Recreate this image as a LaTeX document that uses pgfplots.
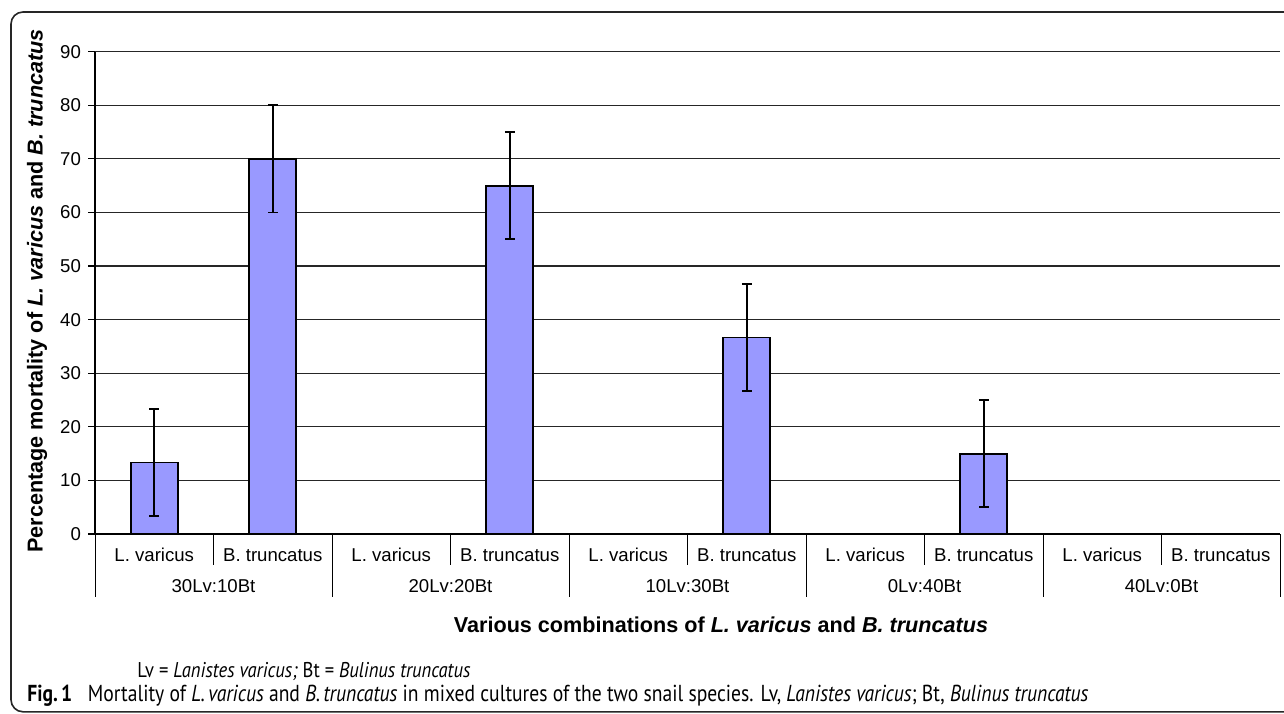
\documentclass[border=0pt]{standalone}
\usepackage{pgfplots}
\pgfplotsset{compat=1.18}
\usepackage{pgfplotstable}
\usepackage{fontspec}
\setmainfont{Liberation Sans}
\newfontfamily\capfont{PT Sans}
\definecolor{barblue}{HTML}{9999FF}
\tikzset{catlab/.style={anchor=base, font=\fontsize{9.3}{11}\selectfont, inner sep=0pt}}

% mean mortality (%) and error, one row per bar (categories 0..9)
\pgfplotstableread{
x y e
0 13.33 10
1 70 10
2 0 0
3 65 10
4 0 0
5 36.67 10
6 0 0
7 15 10
8 0 0
9 0 0
}\mortality

\begin{document}
\begin{tikzpicture}
% picture is 1284 x 713 px, 1 px = 0.5pt
\useasboundingbox (0,0) rectangle (642pt,356.5pt);
\draw[line width=0.8pt, black!85, rounded corners=6pt] (5.5pt,0.6pt) rectangle (680pt,350.5pt);

\begin{axis}[
    at={(47.5pt,89.5pt)}, anchor=south west,
    scale only axis, width=592.5pt, height=241.2pt,
    xmin=-0.5, xmax=9.5, ymin=0, ymax=90,
    ybar, bar width=23.5pt,
    axis x line*=bottom, axis y line*=left,
    axis line style={line width=0.55pt, black},
    xtick=\empty,
    ytick={0,10,...,90},
    ymajorgrids, grid style={black!85, line width=0.55pt},
    tick align=outside, major tick length=3.5pt,
    y tick style={line width=0.55pt, black},
    tick label style={font=\fontsize{9.3}{11}\selectfont},
    /pgf/number format/assume math mode=true,
    yticklabel style={xshift=0pt},
    clip=false,
]
\addplot[fill=barblue, draw=black, line width=0.9pt,
    error bars/.cd, y dir=both, y explicit,
    error bar style={line width=0.8pt, black},
    error mark options={rotate=90, line width=0.8pt, mark size=2.4pt, black}]
    table[x=x, y=y, y error=e] {\mortality};

% category labels
\foreach \k/\lab in {0/L. varicus, 1/B. truncatus, 2/L. varicus, 3/B. truncatus,
                     4/L. varicus, 5/B. truncatus, 6/L. varicus, 7/B. truncatus,
                     8/L. varicus, 9/B. truncatus} {
  \edef\temp{\noexpand\node[catlab] at ([yshift=-13.5pt]axis cs:\k,0) {\lab};}
  \temp
}
% group labels
\foreach \k/\lab in {0.5/30Lv:10Bt, 2.5/20Lv:20Bt, 4.5/10Lv:30Bt, 6.5/0Lv:40Bt, 8.5/40Lv:0Bt} {
  \edef\temp{\noexpand\node[catlab] at ([yshift=-29pt]axis cs:\k,0) {\lab};}
  \temp
}
% separators
\foreach \k in {0.5,2.5,4.5,6.5,8.5} {
  \edef\temp{\noexpand\draw[line width=0.5pt] (axis cs:\k,0) -- ++(0pt,-15.5pt);}
  \temp
}
\foreach \k in {-0.5,1.5,3.5,5.5,7.5,9.5} {
  \edef\temp{\noexpand\draw[line width=0.5pt] (axis cs:\k,0) -- ++(0pt,-31.5pt);}
  \temp
}
\end{axis}

\node[rotate=90, font=\fontsize{10.8}{12}\selectfont\bfseries, inner sep=0pt]
  at (18.5pt,211pt) {Percentage mortality of \textit{L. varicus} and \textit{B. truncatus}};
\node[anchor=base, font=\fontsize{10.8}{12}\selectfont\bfseries, inner sep=0pt]
  at (360.5pt,40.5pt) {Various combinations of \textit{L. varicus} and \textit{B. truncatus}};

% footnote and caption (narrow sans: squeezed a little to the reference widths)
\node[anchor=base west, inner sep=0pt] at (68.5pt,18pt)
  {\scalebox{1}[1.15]{\resizebox{166.5pt}{!}{\capfont Lv = \textit{Lanistes varicus;} Bt = \textit{Bulinus truncatus}}}};
\node[anchor=base west, inner sep=0pt] at (13.5pt,6pt)
  {\scalebox{1}[1.18]{\resizebox{530.5pt}{!}{\capfont\textbf{Fig.\,1}\hspace{0.8em}Mortality of \textit{L.\,varicus} and \textit{B.\,truncatus} in mixed cultures of the two snail species. Lv, \textit{Lanistes varicus}; Bt, \textit{Bulinus truncatus}}}};
\end{tikzpicture}
\end{document}
